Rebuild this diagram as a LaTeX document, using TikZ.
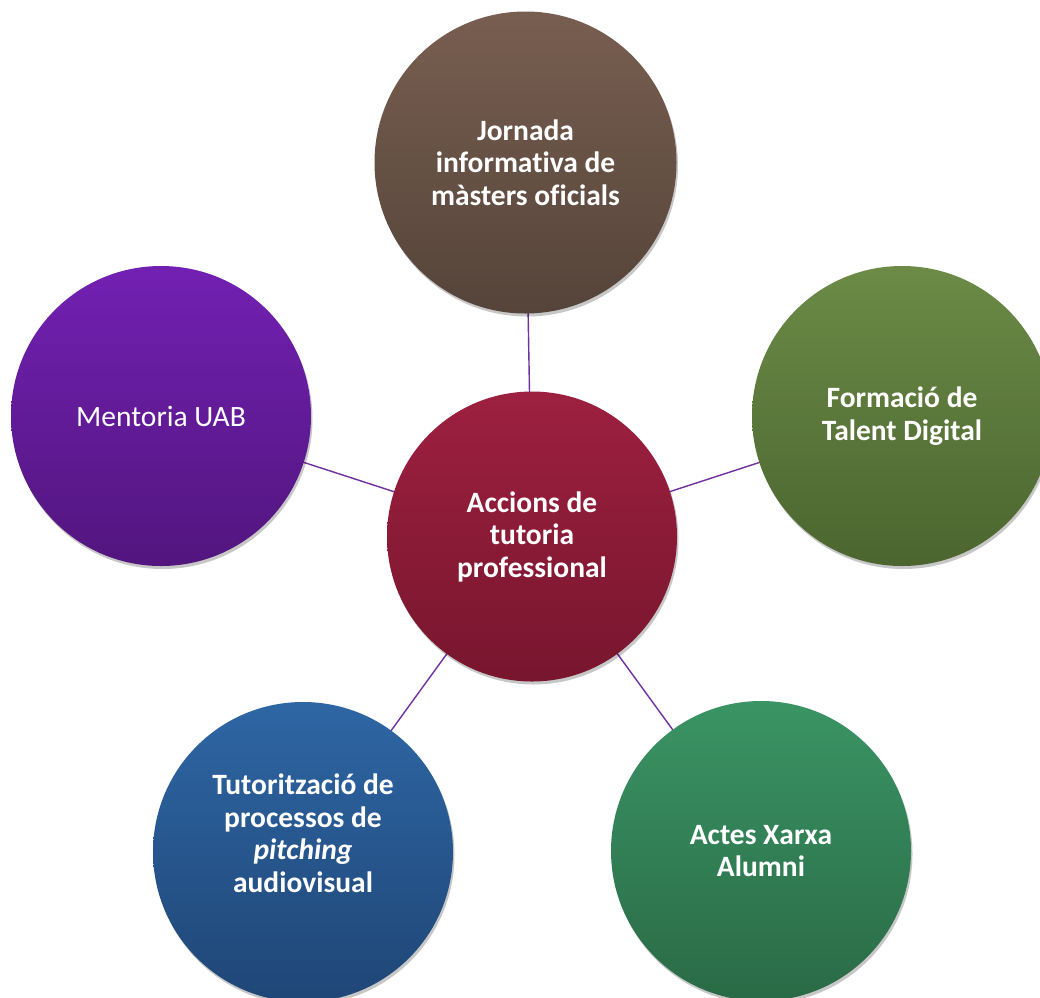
\documentclass[tikz,border=0pt]{standalone}
\usepackage{fontspec}
\setmainfont{Carlito}[Ligatures={NoCommon}]
\usetikzlibrary{shadows}
\definecolor{linkc}{HTML}{7030A0}
\definecolor{brT}{HTML}{785E50}\definecolor{brB}{HTML}{55443A}
\definecolor{rdT}{HTML}{9D2040}\definecolor{rdB}{HTML}{78162E}
\definecolor{olT}{HTML}{6B8B46}\definecolor{olB}{HTML}{4C6530}
\definecolor{gnT}{HTML}{3A9464}\definecolor{gnB}{HTML}{2A6A46}
\definecolor{blT}{HTML}{2E66A4}\definecolor{blB}{HTML}{1F4676}
\definecolor{puT}{HTML}{7220B2}\definecolor{puB}{HTML}{52167E}
\tikzset{
  bubble/.style={circle, minimum size=300pt, inner sep=0pt, align=center,
    text=white, font=\fontsize{29.5}{32.5}\selectfont\bfseries,
    drop shadow={shadow xshift=1.5pt, shadow yshift=-3pt, opacity=0.22, fill=black}},
  hub/.style={bubble, minimum size=290pt},
  link/.style={draw=linkc, line width=1.4pt},
  txt/.style={align=center, text=white, font=\fontsize{29.5}{32.5}\selectfont\bfseries}
}
\begin{document}
\begin{tikzpicture}[x=1pt,y=1pt]
\useasboundingbox (0,0) rectangle (1040,-997);
\fill[white] (0,0) rectangle (1040,-997);
% connectors (behind)
\coordinate (cC) at (532,-536.5);
\coordinate (cT) at (525.5,-162.5);
\coordinate (cR) at (902,-416);
\coordinate (cL) at (161,-416);
\coordinate (cBL) at (303,-852);
\coordinate (cBR) at (761,-851);
\draw[link] (cC) -- (cT);
\draw[link] (cC) -- (cR);
\draw[link] (cC) -- (cL);
\draw[link] (cC) -- (cBL);
\draw[link] (cC) -- (cBR);
% circles
\node[bubble, minimum size=302pt, top color=brT, bottom color=brB] (top) at (cT)
  {Jornada\\informativa de\\màsters oficials};
\node[bubble, top color=olT, bottom color=olB] (right) at (cR)
  {Formació de\\Talent Digital};
\node[bubble, top color=gnT, bottom color=gnB] (bright) at (cBR)
  {Actes Xarxa\\Alumni};
\node[bubble, top color=blT, bottom color=blB] (bleft) at (cBL) {};
\node[txt] (bleftt) at (303,-833)
  {Tutorització de\\processos de\\\textit{pitching}\\audiovisual};
\node[bubble, top color=puT, bottom color=puB, font=\fontsize{29.5}{32.5}\selectfont] (left) at (cL)
  {Mentoria UAB};
\node[hub, top color=rdT, bottom color=rdB] (hubn) at (cC)
  {Accions de\\tutoria\\professional};
\end{tikzpicture}
\end{document}
